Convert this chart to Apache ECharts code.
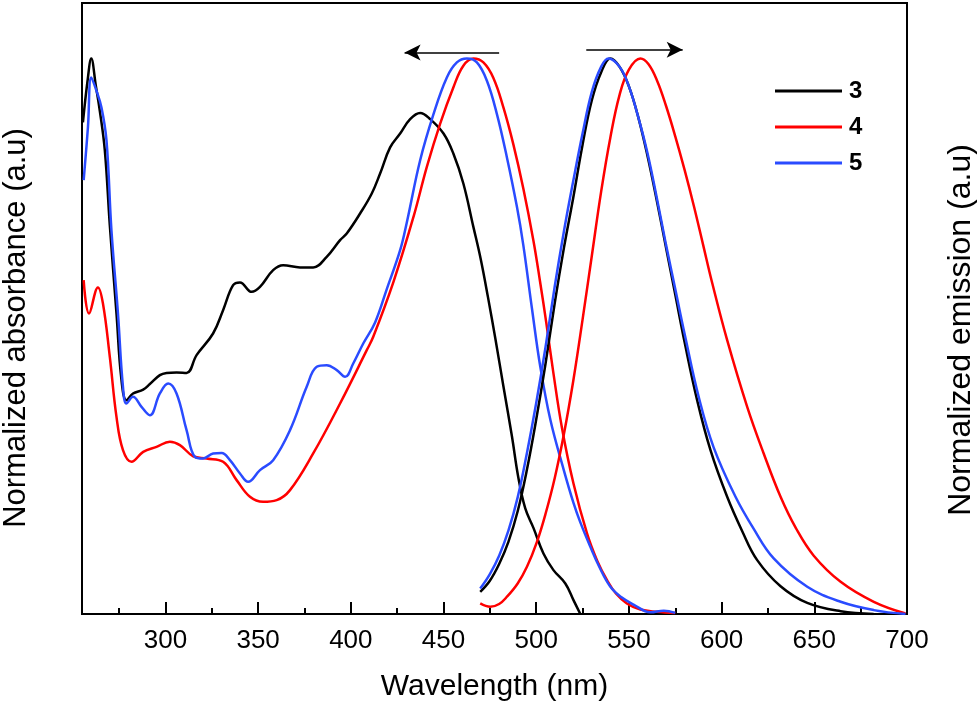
<!DOCTYPE html>
<html>
<head>
<meta charset="utf-8">
<script src="https://cdn.jsdelivr.net/npm/echarts@6/dist/echarts.min.js"></script>
<style>
  html, body { margin: 0; padding: 0; background: #fff; }
  #chart { width: 980px; height: 704px; }
</style>
</head>
<body>
<div id="chart"></div>
<script>
// wavelength (nm), normalized intensity
var abs3 = [[255.5,0.885],[258,0.96],[260,1.0],[262.5,0.95],[264.6,0.906],[267.3,0.835],[270,0.70],[273.6,0.541],[276.3,0.421],[279,0.385],[282.5,0.397],[288,0.404],[291.6,0.414],[297,0.430],[300.6,0.434],[306,0.435],[311.4,0.434],[316.8,0.466],[325.7,0.505],[331.1,0.547],[336.5,0.592],[340.2,0.597],[346.5,0.580],[351,0.589],[358.1,0.619],[363.5,0.628],[372.6,0.624],[379.7,0.624],[387,0.643],[394.2,0.673],[397.8,0.685],[405,0.721],[411.3,0.757],[415.8,0.793],[421.2,0.840],[426.6,0.865],[432,0.891],[437.4,0.902],[442.8,0.891],[450,0.865],[455.3,0.829],[460.7,0.775],[466.1,0.697],[470,0.64],[474,0.57],[478,0.495],[482.3,0.41],[486.9,0.32],[490.4,0.245],[494.1,0.19],[498.5,0.155],[503.9,0.109],[509.3,0.079],[515.7,0.055],[520.1,0.025],[523.8,0.0]];
var abs4 = [[255.9,0.601],[258.8,0.541],[263.6,0.588],[266.3,0.559],[270,0.463],[273.6,0.355],[277.1,0.295],[281.7,0.274],[288,0.292],[295.2,0.301],[302.4,0.310],[307.8,0.304],[315,0.284],[322.2,0.280],[331.1,0.274],[338.4,0.241],[345.6,0.211],[352.7,0.202],[360,0.205],[367.2,0.223],[379.7,0.289],[394.2,0.379],[408.6,0.475],[412.1,0.499],[423,0.598],[433.8,0.715],[441,0.805],[448.2,0.883],[455.3,0.948],[460.7,0.987],[466.1,1.0],[471.5,0.993],[476.9,0.965],[482.3,0.912],[487.7,0.845],[493.1,0.765],[498.5,0.672],[502,0.60],[505.4,0.525],[509,0.44],[513.9,0.335],[520.1,0.235],[527.4,0.145],[533,0.095],[538.2,0.061],[543,0.037],[548.9,0.019],[556.2,0.008],[565.2,0.004],[575,0.002]];
var abs5 = [[255.9,0.781],[258.2,0.876],[260,0.966],[262.8,0.942],[265.5,0.912],[268.2,0.853],[270.9,0.69],[274.4,0.541],[277.1,0.409],[279,0.379],[282.5,0.391],[287.1,0.373],[291.6,0.358],[297,0.397],[301.5,0.415],[306,0.397],[311.4,0.331],[315.9,0.283],[320.3,0.280],[325.7,0.289],[330.3,0.290],[334.8,0.277],[340.2,0.253],[344.6,0.238],[351,0.259],[358.1,0.277],[367.2,0.331],[376.2,0.409],[381.6,0.445],[387,0.448],[392.4,0.439],[396.9,0.427],[401.3,0.451],[406.7,0.487],[413.1,0.525],[419.4,0.585],[426.6,0.655],[430.2,0.705],[437.4,0.817],[444.6,0.900],[451.8,0.966],[457.2,0.993],[462.6,1.0],[468,0.993],[473.4,0.960],[478.8,0.900],[484.2,0.822],[489.6,0.733],[493,0.665],[497.7,0.55],[502.2,0.445],[507.6,0.35],[514.8,0.26],[520.1,0.2],[523.8,0.165],[529.2,0.121],[534,0.085],[540,0.049],[546,0.03],[552.5,0.017],[561.6,0.003],[568.8,0.006],[575,0.002]];

var em3 = [[469.8,0.04],[475,0.06],[480,0.09],[485,0.13],[490,0.185],[495,0.26],[500,0.35],[505,0.45],[510,0.56],[515,0.66],[520,0.75],[525,0.845],[530,0.925],[535,0.975],[540,1.0],[545,0.985],[550,0.95],[555,0.895],[560,0.825],[565,0.745],[570,0.66],[575,0.575],[580,0.49],[586.8,0.385],[594,0.295],[603,0.211],[611,0.15],[619.2,0.097],[631.8,0.05],[646.2,0.02],[664.2,0.005],[682,0.0]];
var em4 = [[469.8,0.019],[475.2,0.013],[480,0.018],[484.2,0.031],[490,0.055],[495,0.085],[500.4,0.13],[505,0.18],[510,0.245],[515,0.325],[520,0.42],[525,0.53],[530,0.645],[535,0.76],[540,0.858],[545,0.935],[550,0.98],[556.2,1.0],[560.5,0.99],[565.2,0.96],[570,0.915],[575,0.86],[580,0.80],[585,0.735],[590,0.665],[595,0.595],[603,0.493],[613.8,0.373],[622.7,0.289],[631.8,0.211],[640,0.155],[649.7,0.105],[664.2,0.058],[682.1,0.022],[699.2,0.001]];
var em5 = [[469.8,0.046],[475,0.072],[480,0.105],[485,0.15],[490,0.21],[495,0.29],[500,0.38],[505,0.48],[510,0.59],[515,0.69],[520,0.78],[525,0.865],[530,0.94],[535,0.985],[539,1.0],[545,0.985],[550,0.95],[555,0.895],[560,0.83],[565,0.75],[570,0.665],[575,0.585],[580,0.505],[587.7,0.39],[595.7,0.3],[607.5,0.211],[617,0.155],[628.1,0.1],[646.2,0.049],[664.2,0.022],[682.1,0.007],[699.2,0.0]];

var majorTicks = [300, 350, 400, 450, 500, 550, 600, 650, 700];
var minorTicks = [275, 325, 375, 425, 475, 525, 575, 625, 675];

// shift arrows: [fromX, toX, y]
var arrowAbs = [480, 429, 1.011];
var arrowEm = [527, 579, 1.016];

var colors = { '3': '#000000', '4': '#ff0000', '5': '#2a4bff' };
var FONT = "'Liberation Sans', Arial, sans-serif";

function makeLine(name, data, extra) {
  var s = {
    name: name,
    type: 'line',
    data: data,
    smooth: 0.4,
    symbol: 'none',
    lineStyle: { width: 2.5, color: colors[name] },
    itemStyle: { color: colors[name] },
    z: 3
  };
  if (extra) Object.assign(s, extra);
  return s;
}

var chart = echarts.init(document.getElementById('chart'));

var option = {
  animation: false,
  grid: {
    left: 82, right: 73, top: 3, bottom: 90,
    outerBoundsMode: 'none',
    containLabel: false,
    show: true, borderColor: '#000', borderWidth: 2
  },
  legend: {
    orient: 'vertical',
    left: 770, top: 74,
    icon: 'rect',
    itemWidth: 67, itemHeight: 3, itemGap: 12,
    data: ['3', '4', '5'],
    textStyle: { fontFamily: FONT, fontSize: 24, fontWeight: 'bold', color: '#000', padding: [0, 0, 0, 2] }
  },
  graphic: [{
    type: 'text', x: 16, y: 328, rotation: Math.PI / 2,
    style: { text: 'Normalized absorbance (a.u)', font: "31px 'Liberation Sans', Arial, sans-serif", fill: '#000', align: 'center', verticalAlign: 'middle' }
  }, {
    type: 'text', x: 961, y: 330, rotation: Math.PI / 2,
    style: { text: 'Normalized emission (a.u)', font: "32px 'Liberation Sans', Arial, sans-serif", fill: '#000', align: 'center', verticalAlign: 'middle' }
  }],
  xAxis: [{
    type: 'value', min: 255, max: 700,
    name: 'Wavelength (nm)', nameLocation: 'middle', nameGap: 58,
    nameTextStyle: { fontFamily: FONT, fontSize: 30, color: '#000' },
    axisLine: { show: true, lineStyle: { color: '#000', width: 2 } },
    axisTick: { show: true, inside: true, length: 12, customValues: majorTicks, lineStyle: { color: '#000', width: 2 } },
    axisLabel: { customValues: majorTicks, fontFamily: FONT, fontSize: 26, color: '#000', margin: 14 },
    splitLine: { show: false }
  }, {
    type: 'value', min: 255, max: 700, position: 'bottom',
    axisLine: { show: false },
    axisTick: { show: true, inside: true, length: 6, customValues: minorTicks, lineStyle: { color: '#000', width: 2 } },
    axisLabel: { show: false },
    splitLine: { show: false }
  }],
  yAxis: [{
    type: 'value', min: 0, max: 1.1,
    axisLine: { show: false }, axisTick: { show: false }, axisLabel: { show: false }, splitLine: { show: false }
  }],
  series: [
    makeLine('3', abs3, {
      markLine: {
        silent: true,
        symbol: ['none', 'arrow'],
        symbolSize: [12, 16],
        label: { show: false },
        lineStyle: { color: '#000', width: 1.5, type: 'solid' },
        data: [
          [{ coord: [arrowAbs[0], arrowAbs[2]] }, { coord: [arrowAbs[1], arrowAbs[2]] }],
          [{ coord: [arrowEm[0], arrowEm[2]] }, { coord: [arrowEm[1], arrowEm[2]] }]
        ]
      }
    }),
    makeLine('4', abs4),
    makeLine('5', abs5),
    makeLine('3', em3),
    makeLine('4', em4),
    makeLine('5', em5)
  ]
};

chart.setOption(option);
</script>
</body>
</html>
